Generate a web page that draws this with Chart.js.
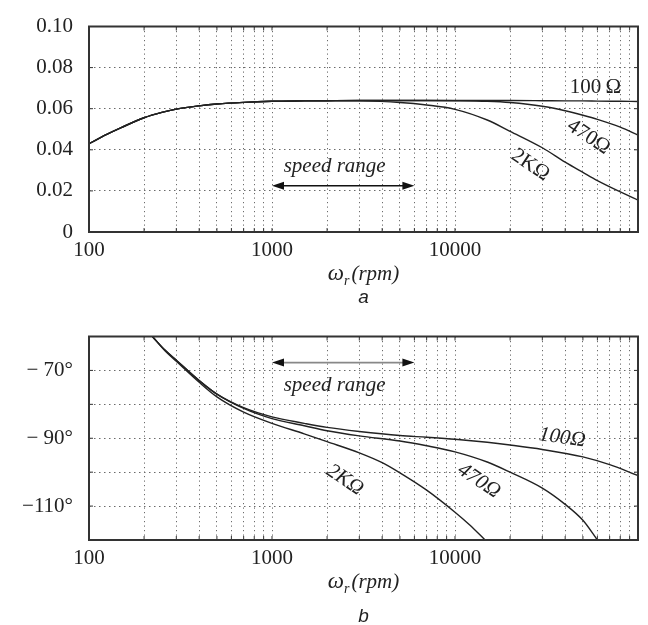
<!DOCTYPE html>
<html>
<head>
<meta charset="utf-8">
<script src="https://cdn.jsdelivr.net/npm/chart.js@4.4.0/dist/chart.umd.min.js"></script>
<style>
  body { margin: 0; background: #fff; }
  #wrap { position: relative; width: 648px; height: 625px; }
  .box { position: absolute; left: 0; width: 648px; }
</style>
</head>
<body>
<div id="wrap">
  <div class="box" style="top:0;height:310px"><canvas id="magChart"></canvas></div>
  <div class="box" style="top:310px;height:315px"><canvas id="phaseChart"></canvas></div>
</div>
<script>
// x tick labels (log axis), speed range marked by the arrow
const xLabels = [100, 1000, 10000];
const speedRange = [1000, 6000];

// (a) magnitude vs rotor speed
const rpmMag = [100, 125, 150, 200, 250, 300, 400, 500, 700, 1000, 1500, 2000, 3000, 5000, 7000, 10000, 15000, 20000, 30000, 40000, 50000, 60000, 80000, 100000];
const mag100 = [0.043, 0.0475, 0.0508, 0.0556, 0.0582, 0.0598, 0.0614, 0.0623, 0.0631, 0.0636, 0.0638, 0.0639, 0.064, 0.064, 0.064, 0.064, 0.064, 0.064, 0.0639, 0.0638, 0.0638, 0.0637, 0.0636, 0.0635];
const mag470 = [0.043, 0.0475, 0.0508, 0.0556, 0.0582, 0.0598, 0.0614, 0.0623, 0.0631, 0.0636, 0.0638, 0.0639, 0.064, 0.064, 0.064, 0.0639, 0.0636, 0.063, 0.0612, 0.059, 0.0568, 0.0548, 0.051, 0.0472];
const mag2k = [0.043, 0.0475, 0.0508, 0.0556, 0.0582, 0.0598, 0.0614, 0.0623, 0.0631, 0.0636, 0.0638, 0.0639, 0.0638, 0.063, 0.0618, 0.0597, 0.0545, 0.049, 0.041, 0.034, 0.029, 0.025, 0.0195, 0.0155];
const magTicks = [0, 0.02, 0.04, 0.06, 0.08, 0.10];

// (b) phase vs rotor speed (degrees)
const rpm100 = [222, 260, 300, 400, 500, 700, 1000, 1500, 2000, 3000, 5000, 7000, 10000, 15000, 20000, 30000, 50000, 70000, 100000];
const ph100 = [-60, -64, -67, -73, -77, -81, -83.7, -85.6, -86.8, -88, -89.2, -89.7, -90.3, -91.2, -92, -93.3, -95.5, -97.8, -101];
const rpm470 = [222, 260, 300, 400, 500, 700, 1000, 1500, 2000, 3000, 5000, 7000, 10000, 15000, 20000, 30000, 40000, 50000, 60000];
const ph470 = [-60, -64, -67, -73, -77, -81.2, -84.2, -86.3, -87.8, -89.3, -90.8, -92.2, -94, -97, -100, -104.7, -109.5, -114.2, -120];
const rpm2k = [222, 260, 300, 400, 500, 700, 1000, 1500, 2000, 3000, 4000, 5000, 7000, 10000, 12000, 14600];
const ph2k = [-60, -64.2, -67.3, -73.5, -77.8, -82.3, -85.6, -88.7, -91, -94.3, -97.2, -100.2, -105.3, -111.8, -115.5, -120];
const phaseLabels = [-70, -90, -110];

const serif = '"Liberation Serif", "DejaVu Serif", serif';
const ink = '#222';

// gridlines at 1..9 x 10^n
const xGrid = [];
for (let d = 100; d < 100000; d *= 10) {
  for (let k = 1; k < 10; k++) xGrid.push(d * k);
}
xGrid.push(100000);

function pair(xs, ys) {
  return xs.map((x, i) => ({ x: x, y: ys[i] }));
}

function curve(xs, ys) {
  return {
    data: pair(xs, ys),
    borderColor: ink,
    borderWidth: 1.4,
    pointRadius: 0,
    fill: false,
    cubicInterpolationMode: 'monotone'
  };
}

function rpmAxis(h) {
  return {
    type: 'logarithmic',
    min: 100,
    max: 100000,
    afterBuildTicks: s => { s.ticks = xGrid.map(v => ({ value: v })); },
    afterFit: s => { s.height = h; },
    ticks: {
      autoSkip: false, maxRotation: 0, minRotation: 0, padding: 8, color: '#222',
      font: { family: serif, size: 21, lineHeight: 1 },
      callback: v => xLabels.includes(v) ? String(v) : ''
    },
    grid: { color: '#6a6a6a', drawTicks: false, lineWidth: 1 },
    border: { display: false, dash: [1.2, 3.3] }
  };
}

function valueAxis(min, max, step, fmt) {
  return {
    min: min,
    max: max,
    afterFit: s => { s.width = 89; },
    ticks: {
      stepSize: step, padding: 16, color: '#222',
      font: { family: serif, size: 21, lineHeight: 1 },
      callback: fmt
    },
    grid: { color: '#6a6a6a', drawTicks: false, lineWidth: 1 },
    border: { display: false, dash: [1.5, 3.5] }
  };
}

// box round the plot and little inner ticks on it
const frame = {
  id: 'frame',
  afterDatasetsDraw(chart) {
    const { ctx, chartArea: a, scales } = chart;
    ctx.save();
    ctx.strokeStyle = '#333';
    ctx.lineWidth = 1;
    ctx.beginPath();
    scales.x.ticks.forEach(t => {
      const px = scales.x.getPixelForValue(t.value);
      ctx.moveTo(px, a.bottom); ctx.lineTo(px, a.bottom - 4);
      ctx.moveTo(px, a.top); ctx.lineTo(px, a.top + 4);
    });
    scales.y.ticks.forEach(t => {
      const py = scales.y.getPixelForValue(t.value);
      ctx.moveTo(a.left, py); ctx.lineTo(a.left + 4, py);
      ctx.moveTo(a.right, py); ctx.lineTo(a.right - 4, py);
    });
    ctx.stroke();
    ctx.lineWidth = 2;
    ctx.strokeRect(a.left, a.top, a.right - a.left, a.bottom - a.top);
    ctx.restore();
  }
};

function arrow(ctx, x1, x2, y, lineColor) {
  ctx.save();
  ctx.strokeStyle = lineColor;
  ctx.lineWidth = 1.6;
  ctx.beginPath();
  ctx.moveTo(x1 + 8, y); ctx.lineTo(x2 - 8, y);
  ctx.stroke();
  ctx.fillStyle = '#111';
  ctx.beginPath();
  ctx.moveTo(x1, y); ctx.lineTo(x1 + 12, y - 4); ctx.lineTo(x1 + 12, y + 4); ctx.closePath();
  ctx.moveTo(x2, y); ctx.lineTo(x2 - 12, y - 4); ctx.lineTo(x2 - 12, y + 4); ctx.closePath();
  ctx.fill();
  ctx.restore();
}

function text(ctx, str, x, y, deg, italic) {
  ctx.save();
  ctx.translate(x, y);
  ctx.rotate(deg * Math.PI / 180);
  ctx.font = (italic ? 'italic ' : '') + '21px ' + serif;
  ctx.fillStyle = '#222';
  ctx.textAlign = 'center';
  ctx.textBaseline = 'middle';
  ctx.fillText(str, 0, 0);
  ctx.restore();
}

function xTitle(ctx, a, letter, letterGap) {
  const cx = (a.left + a.right) / 2;
  const base = a.bottom + 48;
  ctx.save();
  ctx.fillStyle = '#222';
  ctx.textBaseline = 'alphabetic';
  ctx.textAlign = 'left';
  const f1 = 'italic 23px ' + serif, f2 = 'italic 14px ' + serif, f3 = 'italic 21px ' + serif;
  ctx.font = f1; const w1 = ctx.measureText('\u03c9').width;
  ctx.font = f2; const w2 = ctx.measureText('r').width;
  ctx.font = f3; const w3 = ctx.measureText('(rpm)').width;
  let x = cx - (w1 + w2 + 2 + w3) / 2;
  ctx.font = f1; ctx.fillText('\u03c9', x, base); x += w1;
  ctx.font = f2; ctx.fillText('r', x, base + 5); x += w2 + 2;
  ctx.font = f3; ctx.fillText('(rpm)', x, base);
  ctx.font = 'italic 19px "Liberation Sans", Arial, sans-serif';
  ctx.textAlign = 'center';
  ctx.fillText(letter, cx, a.bottom + letterGap);
  ctx.restore();
}

const magNotes = {
  id: 'magNotes',
  afterDraw(chart) {
    const { ctx, chartArea: a, scales: { x, y } } = chart;
    arrow(ctx, x.getPixelForValue(speedRange[0]), x.getPixelForValue(speedRange[1]), y.getPixelForValue(0.0225), '#111');
    text(ctx, 'speed range', x.getPixelForValue(2200), y.getPixelForValue(0.0318), 0, true);
    text(ctx, '100\u2009\u03a9', x.getPixelForValue(58600), y.getPixelForValue(0.0704), 0, false);
    text(ctx, '470\u03a9', x.getPixelForValue(53700), y.getPixelForValue(0.0462), 34, false);
    text(ctx, '2K\u03a9', x.getPixelForValue(25800), y.getPixelForValue(0.0326), 34, false);
    xTitle(ctx, a, 'a', 71);
  }
};

const phaseNotes = {
  id: 'phaseNotes',
  afterDraw(chart) {
    const { ctx, chartArea: a, scales: { x, y } } = chart;
    arrow(ctx, x.getPixelForValue(speedRange[0]), x.getPixelForValue(speedRange[1]), y.getPixelForValue(-67.7), '#888');
    text(ctx, 'speed range', x.getPixelForValue(2200), y.getPixelForValue(-74.3), 0, true);
    text(ctx, '100\u03a9', x.getPixelForValue(38500), y.getPixelForValue(-89.9), 8, true);
    text(ctx, '470\u03a9', x.getPixelForValue(13500), y.getPixelForValue(-102.6), 34, true);
    text(ctx, '2K\u03a9', x.getPixelForValue(2500), y.getPixelForValue(-102.3), 34, true);
    xTitle(ctx, a, 'b', 82);
  }
};

const common = {
  responsive: true,
  maintainAspectRatio: false,
  animation: false,
  events: [],
  plugins: { legend: { display: false }, tooltip: { enabled: false } }
};

const magChart = new Chart(document.getElementById('magChart'), {
  type: 'line',
  data: { datasets: [curve(rpmMag, mag100), curve(rpmMag, mag470), curve(rpmMag, mag2k)] },
  options: Object.assign({}, common, {
    layout: { padding: { top: 11, right: 10, left: 0, bottom: 0 } },
    scales: {
      x: rpmAxis(78),
      y: Object.assign(valueAxis(0, 0.1, 0.02, v => v === 0 ? '0' : v.toFixed(2)), {
        afterBuildTicks: s => { s.ticks = magTicks.map(v => ({ value: v })); }
      })
    }
  }),
  plugins: [frame, magNotes]
});

const phaseChart = new Chart(document.getElementById('phaseChart'), {
  type: 'line',
  data: { datasets: [curve(rpm100, ph100), curve(rpm470, ph470), curve(rpm2k, ph2k)] },
  options: Object.assign({}, common, {
    layout: { padding: { top: 11, right: 10, left: 0, bottom: 0 } },
    scales: {
      x: rpmAxis(85),
      y: valueAxis(-120, -60, 10, v => phaseLabels.includes(v)
        ? '\u2212' + (Math.abs(v) < 100 ? ' ' : '') + Math.abs(v) + '\u00b0' : '')
    }
  }),
  plugins: [frame, phaseNotes]
});
</script>
</body>
</html>
